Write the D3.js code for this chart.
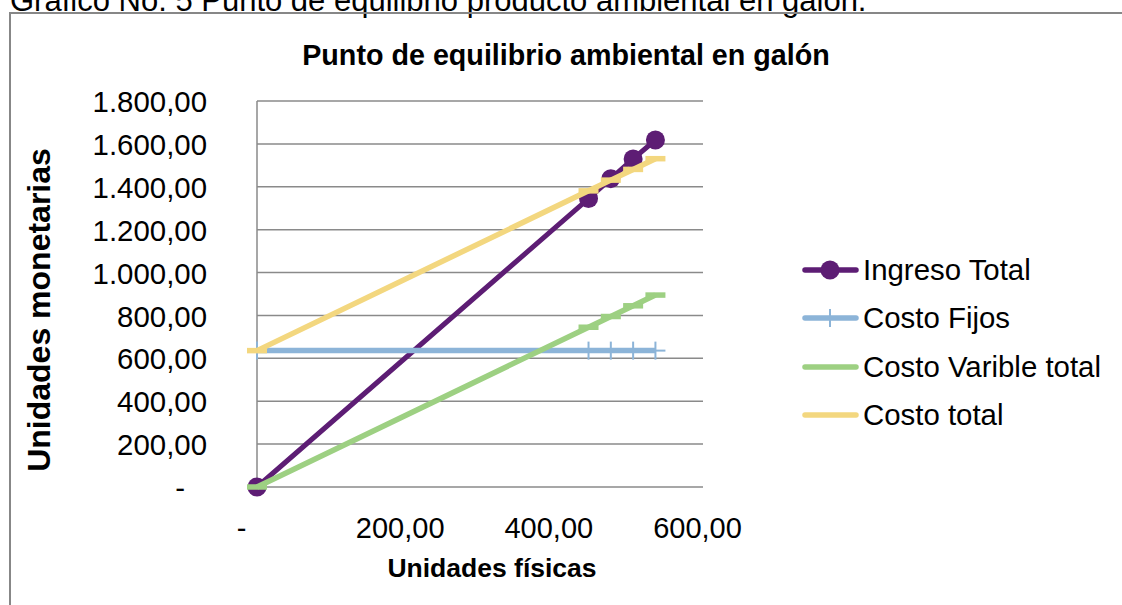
<!DOCTYPE html>
<html>
<head>
<meta charset="utf-8">
<script src="https://cdn.jsdelivr.net/npm/d3@7"></script>
<style>
  html, body { margin: 0; padding: 0; background: #fff; }
  svg { display: block; font-family: "Liberation Sans", Arial, sans-serif; }
</style>
</head>
<body>
<svg id="chart" width="1122" height="605"></svg>
<script>
// Break-even data (environmental product, per gallon)
const unidades      = [0, 446, 476, 506, 536];
const ingresoTotal  = [0, 1345, 1438, 1530, 1618];
const costoFijos    = [636, 636, 636, 636, 636];
const costoVariable = [0, 745, 795, 845, 895];
const costoTotal    = [636, 1381, 1431, 1481, 1531];

const xTicks = [0, 200, 400, 600];
const yTicks = [0, 200, 400, 600, 800, 1000, 1200, 1400, 1600, 1800];

const seriesNames = ["Ingreso Total", "Costo Fijos", "Costo Varible total", "Costo total"];

const svg = d3.select("#chart");
const W = 1122, H = 605;

// Number format: 1.800,00 style, zero shown as "-"
const fmt = v => {
  if (v === 0) return "-";
  const s = d3.format(",.2f")(v);
  return s.replace(/,/g, "#").replace(/\./g, ",").replace(/#/g, ".");
};

// Caption above the chart frame
svg.append("text")
  .attr("x", 10).attr("y", 11)
  .attr("font-size", 31)
  .attr("fill", "#000")
  .text("Gráfico No. 5 Punto de equilibrio producto ambiental en galón.");

// Chart frame
svg.append("path")
  .attr("d", `M10,${H + 5} L10,13 L${W + 5},13`)
  .attr("fill", "none")
  .attr("stroke", "#878787")
  .attr("stroke-width", 2);

const plot = { left: 257, right: 703, top: 101, bottom: 487 };

const x = d3.scaleLinear().domain([0, 600]).range([plot.left, plot.right]);
const y = d3.scaleLinear().domain([0, 1800]).range([plot.bottom, plot.top]);

// Horizontal gridlines
svg.append("g")
  .selectAll("line")
  .data(yTicks)
  .join("line")
  .attr("x1", plot.left).attr("x2", plot.right)
  .attr("y1", d => y(d)).attr("y2", d => y(d))
  .attr("stroke", "#8a8a8a")
  .attr("stroke-width", 1.5);

// Vertical axis line
svg.append("line")
  .attr("x1", plot.left).attr("x2", plot.left)
  .attr("y1", plot.top).attr("y2", plot.bottom)
  .attr("stroke", "#8a8a8a")
  .attr("stroke-width", 1.5);

// Y axis labels
const yAxis = d3.axisLeft(y).tickValues(yTicks).tickFormat(fmt).tickSize(0).tickPadding(50);
const gy = svg.append("g").attr("transform", `translate(${plot.left},0)`).call(yAxis);
gy.select(".domain").remove();
gy.selectAll("text")
  .attr("font-size", 29.4)
  .attr("font-family", "Liberation Sans, Arial, sans-serif")
  .attr("fill", "#000")
  .attr("dy", "0.36em")
  .attr("dx", d => d === 0 ? -22 : 0);

// X axis labels
const xAxis = d3.axisBottom(x).tickValues(xTicks).tickFormat(fmt).tickSize(0).tickPadding(51);
const gx = svg.append("g").attr("transform", `translate(0,${plot.bottom})`).call(xAxis);
gx.select(".domain").remove();
gx.selectAll("text")
  .attr("font-size", 29)
  .attr("font-family", "Liberation Sans, Arial, sans-serif")
  .attr("fill", "#000")
  .attr("dy", "0")
  .attr("dx", d => d === 0 ? -16 : -6);

// Titles
svg.append("text")
  .attr("x", 566).attr("y", 65)
  .attr("text-anchor", "middle")
  .attr("font-size", 28.7).attr("font-weight", "bold")
  .text("Punto de equilibrio ambiental en galón");

svg.append("text")
  .attr("x", 492).attr("y", 577)
  .attr("text-anchor", "middle")
  .attr("font-size", 26.5).attr("font-weight", "bold")
  .text("Unidades físicas");

svg.append("text")
  .attr("transform", "translate(50,310) rotate(-90)")
  .attr("text-anchor", "middle")
  .attr("font-size", 32).attr("font-weight", "bold")
  .text("Unidades monetarias");

// Series
const colors = {
  ingreso: "#5d1d74",
  fijos: "#8cb4d8",
  variable: "#9dd082",
  total: "#f3d77f"
};

const series = [
  { key: "ingreso", values: ingresoTotal, marker: "circle" },
  { key: "fijos", values: costoFijos, marker: "plus" },
  { key: "variable", values: costoVariable, marker: "dash" },
  { key: "total", values: costoTotal, marker: "dash" }
];

const line = d3.line().x(d => x(d[0])).y(d => y(d[1]));

function drawMarker(g, marker, color, px, py) {
  if (marker === "circle") {
    g.append("circle").attr("cx", px).attr("cy", py).attr("r", 9.5).attr("fill", color);
  } else if (marker === "dash") {
    g.append("rect").attr("x", px - 10).attr("y", py - 2.75).attr("width", 20).attr("height", 5.5).attr("fill", color);
  } else if (marker === "plus") {
    g.append("line").attr("x1", px).attr("x2", px).attr("y1", py - 9).attr("y2", py + 9)
      .attr("stroke", color).attr("stroke-width", 2);
    g.append("line").attr("x1", px - 10).attr("x2", px + 10).attr("y1", py).attr("y2", py)
      .attr("stroke", color).attr("stroke-width", 2);
  }
}

series.forEach(s => {
  const pts = unidades.map((u, i) => [u, s.values[i]]);
  const g = svg.append("g");
  g.append("path")
    .attr("d", line(pts))
    .attr("fill", "none")
    .attr("stroke", colors[s.key])
    .attr("stroke-width", s.key === "ingreso" ? 5 : 5.5)
    .attr("stroke-linejoin", "round");
  pts.forEach(p => drawMarker(g, s.marker, colors[s.key], x(p[0]), y(p[1])));
});

// Legend
const legend = svg.append("g");
const legendY = [270, 318, 367, 415];
series.forEach((s, i) => {
  const ly = legendY[i];
  legend.append("line")
    .attr("x1", 805).attr("x2", 856).attr("y1", ly).attr("y2", ly)
    .attr("stroke", colors[s.key])
    .attr("stroke-width", 5.5)
    .attr("stroke-linecap", "round");
  drawMarker(legend, s.marker === "dash" ? "none" : s.marker, colors[s.key], 830, ly);
  legend.append("text")
    .attr("x", 863).attr("y", ly + 10)
    .attr("font-size", 29.4)
    .attr("fill", "#000")
    .text(seriesNames[i]);
});
</script>
</body>
</html>
